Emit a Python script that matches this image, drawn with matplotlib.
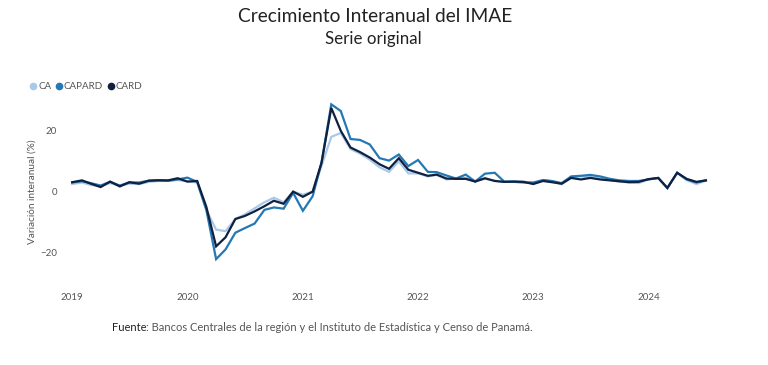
import numpy as np
import pandas as pd
import matplotlib
matplotlib.use("Agg")
import matplotlib.pyplot as plt
import matplotlib.dates as mdates
from matplotlib.lines import Line2D

# monthly series, Jan 2019 - Jul 2024
months = pd.date_range("2019-01-01", periods=67, freq="MS")

ca = [
    2.5, 3.0, 2.2, 1.8, 2.8, 2.0, 2.6, 2.5, 3.2, 3.5, 3.5, 3.8,
    3.4, 3.0, -6.0, -12.5, -13.0, -9.0, -7.5, -5.5, -3.5, -2.0, -3.5, 0.0,
    -1.0, 0.0, 8.5, 18.0, 19.3, 14.0, 12.5, 10.5, 8.0, 6.5, 10.0, 6.0,
    6.0, 5.0, 5.5, 4.0, 4.4, 4.5, 3.5, 4.2, 3.6, 3.2, 3.5, 3.3,
    2.8, 3.8, 3.4, 2.4, 4.8, 5.0, 4.8, 4.3, 3.8, 3.3, 3.0, 2.8,
    4.0, 4.5, 1.2, 6.2, 3.8, 2.5, 3.6,
]
capard = [
    3.0, 3.4, 2.8, 2.0, 3.2, 2.0, 3.0, 3.0, 3.6, 3.8, 3.6, 4.0,
    4.6, 3.2, -6.0, -22.2, -19.0, -13.5, -12.0, -10.5, -6.0, -5.2, -5.6, -0.4,
    -6.3, -1.5, 9.5, 28.7, 26.5, 17.3, 17.0, 15.5, 11.0, 10.2, 12.2, 8.4,
    10.4, 6.5, 6.4, 5.3, 4.3, 5.6, 3.3, 5.9, 6.2, 3.3, 3.2, 3.0,
    3.0, 3.8, 3.5, 2.8, 5.0, 5.2, 5.5, 5.0, 4.2, 3.7, 3.5, 3.5,
    4.0, 4.5, 1.2, 6.2, 4.0, 3.0, 3.7,
]
card = [
    3.1, 3.7, 2.6, 1.5, 3.3, 1.7, 3.1, 2.6, 3.6, 3.7, 3.7, 4.4,
    3.3, 3.5, -5.0, -18.0, -15.0, -9.0, -8.0, -6.5, -4.8, -3.0, -4.0, 0.0,
    -1.7, 0.0, 9.5, 27.5, 20.0, 14.5, 13.0, 11.2, 9.0, 7.5, 11.0, 7.2,
    6.2, 5.2, 5.6, 4.3, 4.2, 4.2, 3.3, 4.4, 3.5, 3.2, 3.3, 3.2,
    2.5, 3.5, 3.1, 2.6, 4.5, 4.0, 4.5, 4.0, 3.7, 3.4, 3.1, 3.2,
    4.1, 4.5, 1.2, 6.2, 4.2, 3.2, 3.7,
]

series = [("CA", ca, "#a9c9e8"), ("CAPARD", capard, "#2478b4"), ("CARD", card, "#10203f")]
years = [2019, 2020, 2021, 2022, 2023, 2024]

plt.rcParams["font.family"] = ["Lato", "DejaVu Sans"]

fig = plt.figure(figsize=(7.68, 3.65), dpi=100)
ax = fig.add_axes([0.078, 0.225, 0.86, 0.5])

for name, vals, color in series:
    ax.plot(months, vals, color=color, linewidth=1.6, label=name,
            solid_joinstyle="miter")

ax.set_xlim(pd.Timestamp("2018-11-23"), pd.Timestamp("2024-08-16"))
ax.set_ylim(-30, 30)
ax.set_yticks([-20, 0, 20])
ax.set_xticks([pd.Timestamp(f"{y}-01-01") for y in years])
ax.xaxis.set_major_formatter(mdates.DateFormatter("%Y"))
ax.tick_params(axis="both", length=0, labelsize=7, colors="#555555")
ax.tick_params(axis="x", pad=7)
ax.tick_params(axis="y", pad=2)
for s in ax.spines.values():
    s.set_visible(False)
ax.set_ylabel("Variación interanual (%)", fontsize=7.2, color="#555555", labelpad=3)

handles = [Line2D([], [], marker="o", linestyle="none", markersize=4.5,
                  markerfacecolor=c, markeredgecolor=c) for _, _, c in series]
fig.legend(handles, [n for n, _, _ in series], loc="center left",
           bbox_to_anchor=(0.039, 0.762), ncol=3, frameon=False, fontsize=7,
           handlelength=0.6, handletextpad=0.25, columnspacing=0.45,
           borderaxespad=0, borderpad=0, labelcolor="#555555")

fig.text(0.488, 0.955, "Crecimiento Interanual del IMAE", ha="center", va="center",
         fontsize=13.8, color="#222222")
fig.text(0.486, 0.893, "Serie original", ha="center", va="center",
         fontsize=12.2, color="#222222")

fig.text(0.146, 0.103, "Fuente", ha="left", va="center", fontsize=8, color="#222222")
fig.text(0.146 + 0.0435, 0.103,
         ": Bancos Centrales de la región y el Instituto de Estadística y Censo de Panamá.",
         ha="left", va="center", fontsize=8, color="#555555")

fig.savefig("out.png", dpi=100)
